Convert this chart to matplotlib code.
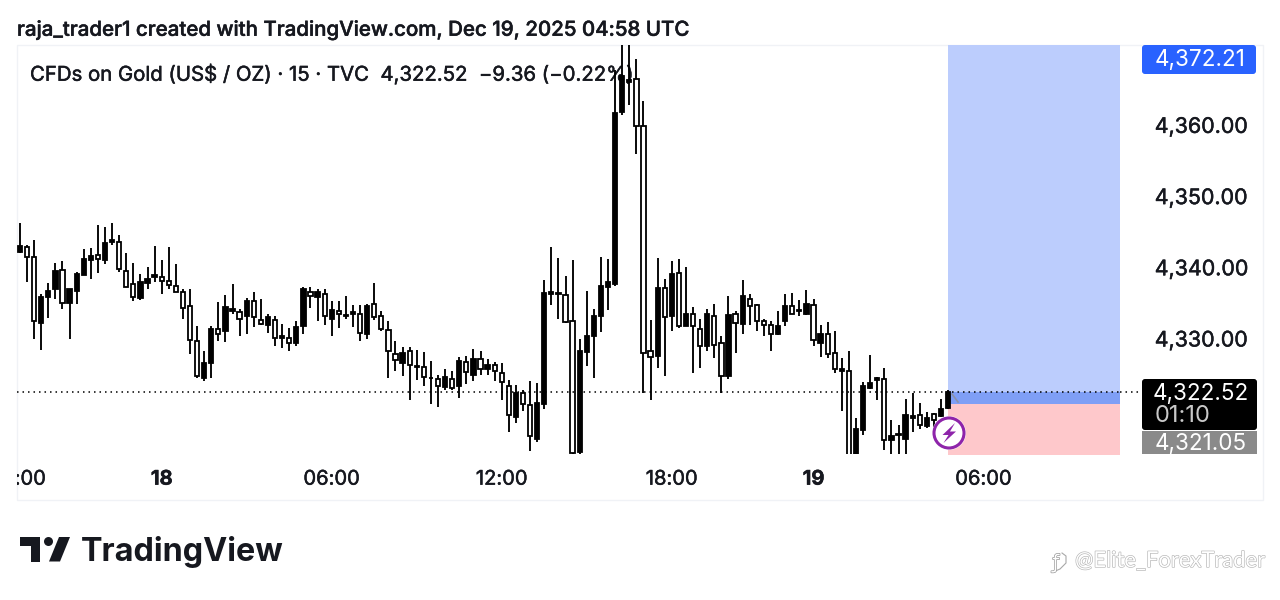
#!/usr/bin/env python3
import matplotlib
matplotlib.use("Agg")
import matplotlib.pyplot as plt
from matplotlib.patches import Rectangle, Circle, Polygon, FancyBboxPatch
from matplotlib.transforms import Bbox
import matplotlib.patheffects as pe
import numpy as np

W, H = 1280, 600
FONT = "Inter"

opens = [4342.2, 4342.8, 4341.5, 4332.2, 4335.8, 4337.0, 4339.6, 4335.0, 4336.7, 4338.9, 4341.0, 4341.7, 4341.0, 4343.5,
         4343.6, 4339.5, 4337.7, 4335.7, 4337.8, 4338.7, 4338.7, 4338.1, 4337.4, 4336.6, 4334.5, 4329.7, 4324.4, 4326.6,
         4331.3, 4331.0, 4333.8, 4333.7, 4333.1, 4335.3, 4332.6, 4331.9, 4332.6, 4330.1, 4330.1, 4329.4, 4331.8, 4336.6,
         4335.8, 4336.2, 4332.8, 4333.9, 4333.1, 4333.5, 4333.5, 4330.7, 4334.8, 4333.2, 4331.2, 4327.8, 4326.6,
         4328.2, 4326.0, 4326.0, 4324.4, 4324.3, 4323.2, 4324.3, 4323.4, 4326.7, 4324.9, 4327.1, 4325.7, 4326.3, 4325.1,
         4323.4, 4319.0, 4322.4, 4320.6, 4315.9, 4320.8, 4336.3, 4336.3, 4336.1, 4332.4, 4314.0, 4328.1, 4330.4,
         4333.2, 4337.3, 4337.7, 4361.8, 4366.0, 4366.5, 4359.9, 4328.2, 4327.5, 4337.1, 4333.1, 4339.2, 4331.8, 4333.5,
         4331.3, 4328.9, 4333.1, 4329.3, 4324.7, 4333.4, 4332.1, 4335.6, 4334.7, 4332.4, 4331.9, 4330.6, 4332.4, 4334.6,
         4333.8, 4333.5, 4334.7, 4329.4, 4330.7, 4328.0,
         4325.5, 4325.4, 4313.5, 4317.2, 4323.1, 4324.2, 4324.3, 4315.7, 4316.4, 4315.9, 4318.9, 4319.3, 4317.7, 4319.4,
         4319.1, 4320.2]
closes = [4343.0, 4341.4, 4332.4, 4335.8, 4336.7, 4339.5, 4335.0, 4336.9, 4339.1, 4341.2, 4341.6, 4341.2, 4343.4, 4343.8,
          4339.8, 4337.2, 4335.8, 4337.9, 4338.4, 4338.9, 4338.1, 4337.5, 4336.6, 4334.3, 4329.8, 4324.7, 4326.6, 4331.3,
          4330.6, 4334.4, 4334.1, 4332.8, 4335.3, 4333.0, 4332.0, 4333.0, 4330.1, 4330.3, 4329.4, 4331.6, 4337.0, 4335.9,
          4336.6, 4333.2, 4334.0, 4333.5, 4333.3, 4333.7, 4330.8, 4334.5, 4333.0, 4331.3, 4328.2, 4327.0, 4328.0,
          4326.3, 4326.1, 4324.6, 4324.5, 4323.4, 4324.6, 4323.0, 4326.8, 4325.3, 4327.1, 4325.7, 4326.3, 4325.5, 4323.9,
          4319.3, 4322.3, 4320.8, 4316.3, 4321.0, 4336.4, 4336.5, 4336.4, 4332.3, 4313.9, 4328.3, 4330.4, 4333.2,
          4337.4, 4337.9, 4361.7, 4366.8, 4366.3, 4359.8, 4327.9, 4327.4, 4337.1, 4333.0, 4339.0, 4331.8, 4333.5, 4331.7,
          4328.9, 4333.5, 4329.1, 4324.7, 4333.3, 4332.2, 4336.0, 4334.5, 4332.5, 4331.9, 4330.7, 4331.8, 4334.6, 4333.5,
          4334.0, 4334.9, 4329.8, 4330.7, 4327.8, 4325.7,
          4325.7, 4313.5, 4317.3, 4323.3, 4323.7, 4324.4, 4315.8, 4316.3, 4316.6, 4319.2, 4319.1, 4317.8, 4318.8, 4318.6,
          4320.1, 4322.52]
highs = [4346.2, 4343.1, 4343.8, 4336.2, 4337.8, 4340.6, 4340.9, 4337.0, 4339.4, 4342.5, 4342.7, 4346.0, 4345.7, 4346.2,
         4344.5, 4342.0, 4340.6, 4339.1, 4340.0, 4343.0, 4341.0, 4342.8, 4340.4, 4336.9, 4336.9, 4331.7, 4328.2, 4331.7,
         4335.1, 4336.1, 4337.6, 4334.1, 4335.7, 4336.6, 4335.5, 4333.4, 4333.2, 4332.0, 4331.5, 4332.4, 4337.2, 4337.3,
         4337.0, 4336.9, 4335.2, 4335.2, 4336.0, 4334.7, 4334.7, 4334.9, 4337.8, 4333.9, 4332.5, 4329.6, 4328.8,
         4328.8, 4328.4, 4328.1, 4326.8, 4324.9, 4325.7, 4325.4, 4327.4, 4327.5, 4328.5, 4328.2, 4327.1, 4326.7, 4326.5,
         4324.2, 4323.5, 4322.7, 4324.0, 4323.7, 4338.2, 4342.8, 4341.3, 4338.8, 4341.0, 4330.0, 4336.7, 4334.1,
         4341.4, 4341.1, 4367.7, 4372.5, 4372.5, 4369.2, 4363.3, 4332.6, 4341.3, 4338.3, 4340.9, 4341.1, 4340.1, 4334.4,
         4332.8, 4334.1, 4334.9, 4330.4, 4335.9, 4333.8, 4338.2, 4336.2, 4334.9, 4332.8, 4332.4, 4333.8, 4336.2, 4336.4,
         4335.4, 4336.8, 4335.5, 4331.9, 4332.3, 4331.0,
         4327.2, 4328.2, 4318.9, 4323.9, 4327.7, 4324.6, 4325.8, 4318.6, 4317.8, 4321.5, 4322.4, 4320.9, 4319.7, 4319.6,
         4321.5, 4322.8]
lows = [4342.0, 4338.0, 4329.9, 4328.4, 4332.9, 4335.6, 4334.1, 4330.0, 4334.9, 4338.9, 4338.3, 4339.2, 4340.4, 4343.1,
        4339.3, 4337.2, 4335.3, 4335.4, 4336.9, 4338.0, 4336.2, 4336.9, 4336.5, 4332.8, 4327.8, 4324.4, 4324.1, 4324.4,
        4329.6, 4329.5, 4333.5, 4330.4, 4330.6, 4331.6, 4331.9, 4330.8, 4328.9, 4328.6, 4328.2, 4328.9, 4330.7, 4334.3,
        4332.4, 4331.9, 4330.4, 4331.5, 4332.8, 4331.6, 4329.7, 4330.0, 4332.6, 4331.1, 4324.5, 4325.5, 4324.8,
        4321.4, 4324.2, 4323.3, 4320.8, 4320.4, 4322.7, 4322.8, 4321.7, 4323.6, 4324.0, 4324.9, 4324.9, 4324.1, 4321.4,
        4316.9, 4318.2, 4319.8, 4314.2, 4315.5, 4320.1, 4334.7, 4332.7, 4332.2, 4313.5, 4313.5, 4326.1, 4324.4,
        4330.9, 4334.0, 4337.4, 4361.4, 4362.8, 4355.9, 4322.4, 4321.4, 4325.8, 4324.7, 4331.1, 4331.5, 4331.7, 4325.2,
        4325.9, 4328.2, 4327.3, 4322.4, 4324.3, 4327.9, 4330.7, 4331.9, 4331.0, 4330.4, 4328.2, 4330.5, 4331.8, 4333.4,
        4333.1, 4333.3, 4328.9, 4327.4, 4327.3, 4325.1,
        4319.8, 4313.0, 4313.0, 4316.5, 4322.9, 4321.3, 4314.4, 4313.5, 4313.5, 4313.5, 4316.9, 4317.3, 4317.4, 4317.6,
        4319.0, 4320.1]

# bar index of each time label (one hour of bars is missing before "19")
time_ticks = [0, 20, 44, 68, 92, 112, 136]
time_labels = ["19:00", "18", "06:00", "12:00", "18:00", "19", "06:00"]
bold_labels = ["18", "19"]
price_ticks = [4330, 4340, 4350, 4360]

last_price = 4322.52
entry_price = 4320.8
target_price = 4372.21
stop_price = 4313.0
position_start = 131
position_end = 155.3

plt.rcParams["font.family"] = [FONT, "DejaVu Sans"]
INK = "#16181f"
# the screenshot text sits a bit heavier than Inter regular
HEAVY = [pe.withStroke(linewidth=0.35, foreground=INK)]

fig = plt.figure(figsize=(W / 100, H / 100), dpi=100, facecolor="white")

# chart pane, placed in pixels
left, right, top, bottom = 17, 1120, 45, 454
ax = fig.add_axes([left / W, 1 - bottom / H, (right - left) / W, (bottom - top) / H])
ax.set_xlim(-0.42, 155.26)
ax.set_ylim(4313.78, 4371.22)
ax.patch.set_alpha(0)
for s in ax.spines.values():
    s.set_visible(False)

x = np.arange(len(opens))
opens = np.array(opens)
closes = np.array(closes)
up = closes >= opens

# position tool behind the candles
ax.fill_between([position_start, position_end], entry_price, target_price, color="#bccdfd", lw=0, zorder=1)
ax.fill_between([position_start, position_end], entry_price, last_price, color="#7f9ff6", lw=0, zorder=1.1)
ax.fill_between([position_start, position_end], stop_price, entry_price, color="#fec8cb", lw=0, zorder=1)

ax.vlines(x, lows, highs, color="black", lw=1.35, zorder=3)
ax.bar(x, closes - opens, bottom=opens, width=0.6, color=["black" if u else "white" for u in up],
       edgecolor="black", linewidth=1.3, zorder=4)

ax.axhline(last_price, color="black", lw=1.1, dashes=(1, 2.6), zorder=5)
ax.plot([1, 1.019], [last_price, last_price], transform=ax.get_yaxis_transform(), color="black",
        lw=1.1, dashes=(1, 2.6), clip_on=False, zorder=5)

ax.set_xticks(time_ticks)
ax.set_xticklabels(time_labels, fontsize=14.5, color=INK)
ax.tick_params(axis="x", length=0, pad=12)
for lab in ax.get_xticklabels():
    if lab.get_text() in bold_labels:
        lab.set_fontweight("bold")
    lab.set_path_effects(HEAVY)
    lab.set_clip_on(True)
    lab.set_clip_box(Bbox([[left, 0], [W, H]]))

ax.yaxis.tick_right()
ax.set_yticks(price_ticks)
ax.set_yticklabels([f"{p:,.2f}" for p in price_ticks], fontsize=15.4, color=INK, path_effects=HEAVY)
ax.tick_params(axis="y", length=0, pad=25)

# overlays in pixel units for the snapshot furniture
ov = fig.add_axes([0, 0, 1, 1], facecolor="none", zorder=-1)
ov.set_xlim(0, W)
ov.set_ylim(H, 0)
ov.axis("off")

top_ov = fig.add_axes([0, 0, 1, 1], facecolor="none", zorder=5)
top_ov.set_xlim(0, W)
top_ov.set_ylim(H, 0)
top_ov.axis("off")

ov.add_patch(Rectangle((17, 44.5), 1246, 455.5, fc="white", ec="#f0f2f6", lw=1))
ov.text(17, 30.5, "raja_trader1 created with TradingView.com, Dec 19, 2025 04:58 UTC",
        fontsize=14.75, fontweight="medium", color=INK, va="center", ha="left", path_effects=HEAVY)
ov.text(30, 75, "CFDs on Gold (US$ / OZ) · 15 · TVC  4,322.52  −9.36 (−0.22%)",
        fontsize=14.65, color=INK, va="center", ha="left", path_effects=HEAVY)

# price axis labels
top_ov.add_patch(FancyBboxPatch((1144, 47), 110, 25, boxstyle="round,pad=2,rounding_size=3", fc="#2962ff", ec="none"))
top_ov.text(1200.5, 59.5, "4,372.21", color="white", fontsize=16.2, ha="center", va="center")
top_ov.add_patch(FancyBboxPatch((1144, 381), 111, 47, boxstyle="round,pad=2,rounding_size=3", fc="black", ec="none"))
top_ov.add_patch(Rectangle((1142, 431), 115, 23, fc="#8a8a8a", ec="none"))
top_ov.text(1200.5, 393.5, "4,322.52", color="white", fontsize=16.2, ha="center", va="center")
top_ov.text(1155, 416, "01:10", color="#c8c8c8", fontsize=17, ha="left", va="center")
top_ov.text(1200.5, 444, "4,321.05", color="white", fontsize=16.2, ha="center", va="center")

# lightning badge
top_ov.plot([952, 958], [394, 402], color="#8c93a8", lw=1.2)
top_ov.add_patch(Circle((949, 433), 17, fc="white", ec="none", alpha=0.75))
top_ov.add_patch(Circle((949, 433), 15, fc="white", ec="#8e24aa", lw=2.2))
top_ov.add_patch(Polygon([(955, 423), (942.5, 435), (948.5, 435), (943.5, 443), (956, 431.5), (950, 431.5)],
                         fc="#8e24aa", ec="none"))

# TradingView logo
top_ov.add_patch(Polygon([(20, 537), (40, 537), (40, 561.5), (30.5, 561.5), (30.5, 546), (20, 546)], fc=INK, ec="none"))
top_ov.add_patch(Circle((48.5, 541.5), 4.5, fc=INK, ec="none"))
top_ov.add_patch(Polygon([(59, 537), (70, 537), (60, 561.5), (49, 561.5)], fc=INK, ec="none"))
top_ov.text(81, 552, "TradingView", fontsize=23.3, fontweight="bold", color=INK, va="center", ha="left")

# repost watermark
wm = top_ov.text(1075, 561, "@Elite_ForexTrader", fontsize=15.8, color="white", va="center", ha="left", family="Lato")
wm.set_path_effects([pe.withStroke(linewidth=0.9, foreground="#b4b4b4")])
ic = top_ov.text(1056, 563, "ƒ", fontsize=14, color="white", va="center", ha="center", family="DejaVu Sans")
ic.set_path_effects([pe.withStroke(linewidth=0.9, foreground="#8e8e8e")])
top_ov.plot([1062, 1066, 1066, 1060, 1053], [553, 556, 563, 569, 572], color="#a8a8a8", lw=0.8)

fig.savefig("out.png", dpi=100, facecolor="white")
